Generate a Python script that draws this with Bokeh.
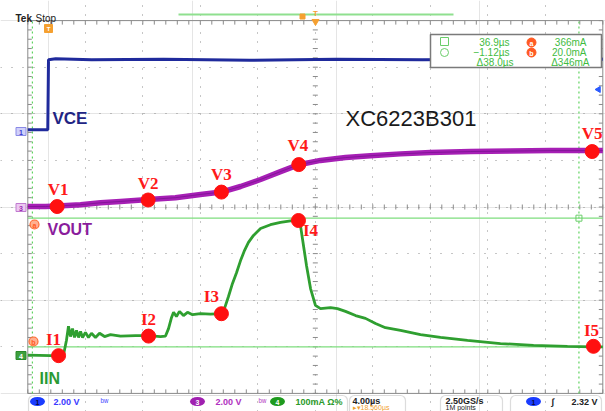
from bokeh.plotting import figure
from bokeh.models import Range1d, Grid, FixedTicker, BoxAnnotation, ColumnDataSource
from bokeh.core.properties import value
from bokeh.embed import file_html
from bokeh.resources import INLINE

# ---------------- data: time in µs, vertical position in graticule divisions ----------------
vce_t = [-1.44, -0.05, 0.0, 0.5, 3.0, 8.0, 14.0, 20.0, 26.0, 32.0, 38.56]
vce_y = [1.66, 1.66, 3.16, 3.18, 3.16, 3.17, 3.15, 3.17, 3.16, 3.17, 3.17]

vout_t = [-1.44, -0.21, 0.63, 2.23, 3.62, 5.01, 6.96, 8.83, 10.57, 12.03, 13.36, 14.75,
          16.14, 17.32, 18.92, 20.66, 22.40, 24.49, 26.57, 29.36, 32.14, 34.92, 37.84, 38.56]
vout_y = [0.01, 0.01, 0.02, 0.05, 0.09, 0.12, 0.16, 0.20, 0.27, 0.32, 0.44, 0.59,
          0.76, 0.90, 1.00, 1.06, 1.10, 1.14, 1.17, 1.19, 1.20, 1.21, 1.21, 1.21]

iin_t = [-1.44, 0.14, 1.04, 1.25, 1.39, 1.53, 1.67, 1.81, 1.95, 2.09, 2.23, 2.37, 2.57, 2.78,
         2.99, 3.27, 3.55, 3.90, 4.31, 5.01, 6.05, 6.96, 7.79, 8.14, 8.35, 8.56, 8.70, 8.90,
         9.11, 9.39, 9.67, 10.02, 10.57, 11.27, 11.97, 12.24, 12.52, 12.80, 13.08, 13.36, 13.64,
         13.91, 14.26, 14.75, 15.44, 16.14, 16.84, 17.39, 17.53, 17.74, 17.95, 18.23, 18.57,
         18.92, 19.62, 20.10, 20.66, 21.36, 22.05, 22.75, 23.44, 24.49, 25.88, 27.27, 29.15,
         31.44, 33.74, 36.10, 37.91, 38.56]
iin_y = [-3.18, -3.19, -3.18, -2.86, -2.56, -2.78, -2.61, -2.80, -2.65, -2.80, -2.67, -2.80,
         -2.69, -2.80, -2.71, -2.80, -2.71, -2.78, -2.74, -2.77, -2.76, -2.76, -2.78, -2.77,
         -2.61, -2.37, -2.26, -2.35, -2.24, -2.33, -2.26, -2.31, -2.29, -2.30, -2.29, -2.18,
         -1.92, -1.64, -1.41, -1.15, -0.93, -0.76, -0.61, -0.46, -0.38, -0.33, -0.30, -0.28,
         -0.40, -0.83, -1.26, -1.75, -2.11, -2.18, -2.16, -2.18, -2.24, -2.33, -2.39, -2.50,
         -2.59, -2.65, -2.74, -2.80, -2.86, -2.93, -2.97, -2.99, -3.00, -3.00]

v_names = ["V1", "V2", "V3", "V4", "V5"]
v_t = [0.60, 6.93, 12.03, 17.41, 37.82]
v_y = [0.01, 0.15, 0.32, 0.91, 1.19]

i_names = ["I1", "I2", "I3", "I4", "I5"]
i_t = [0.70, 6.96, 12.03, 17.39, 37.91]
i_y = [-3.19, -2.77, -2.29, -0.29, -2.99]

cursor_t = [-1.12, 36.9]          # vertical cursors (µs)
cursor_y = [-3.00, -0.24]         # horizontal cursors (div)

readout_time = ["36.9µs", "−1.12µs", "Δ38.0µs"]
readout_amp = ["366mA", "20.0mA", "Δ346mA"]

# ---------------- scope geometry ----------------
T_PER_DIV = 4.0
T_LEFT = -1.44
N_XDIV = 10
N_YDIV = 8
T_RIGHT = T_LEFT + N_XDIV * T_PER_DIV
T_CENTER = T_LEFT + N_XDIV * T_PER_DIV / 2


def X(px):
    return (px - 48.0) / 57.5 * T_PER_DIV


def Y(py):
    return (206.5 - py) / 46.6


W, H = 605, 411
p = figure(width=W, height=H, x_range=Range1d(X(0), X(605)), y_range=Range1d(Y(411), Y(0)),
           output_backend="svg", toolbar_location=None, x_axis_location=None,
           y_axis_location=None, min_border=0, title=None)
p.outline_line_color = None
p.background_fill_color = "white"
p.border_fill_color = "white"

GRID_C = "#8d8d8d"
gx = Grid(dimension=0, ticker=FixedTicker(ticks=[T_LEFT + T_PER_DIV * k for k in range(1, N_XDIV)]),
          bounds=(-4, 4), grid_line_color=GRID_C, grid_line_width=1, grid_line_dash="1 8")
gy = Grid(dimension=1, ticker=FixedTicker(ticks=[k for k in range(-3, 4)]),
          bounds=(T_LEFT, T_RIGHT), grid_line_color=GRID_C, grid_line_width=1,
          grid_line_dash="1 10")
p.add_layout(gx)
p.add_layout(gy)

# graticule border
p.quad(left=[T_LEFT], right=[T_RIGHT], bottom=[-4], top=[4], fill_color=None,
       line_color="#8a8a8a", line_width=1)

# minor ticks on centre lines and edges
ty = [-4 + 0.2 * k for k in range(41)]
tx = [T_LEFT + 0.8 * k for k in range(51)]
dx = 2.5 * T_PER_DIV / 57.5
dy = 2.5 / 46.6
TK = dict(line_color="#8a8a8a", line_width=1)
p.segment(x0=[T_CENTER - dx] * len(ty), y0=ty, x1=[T_CENTER + dx] * len(ty), y1=ty, **TK)
p.segment(x0=tx, y0=[-dy] * len(tx), x1=tx, y1=[dy] * len(tx), **TK)
p.segment(x0=[T_LEFT] * len(ty), y0=ty, x1=[T_LEFT + 1.6 * dx] * len(ty), y1=ty, **TK)
p.segment(x0=[T_RIGHT] * len(ty), y0=ty, x1=[T_RIGHT - 1.6 * dx] * len(ty), y1=ty, **TK)
p.segment(x0=tx, y0=[4] * len(tx), x1=tx, y1=[4 - 1.6 * dy] * len(tx), **TK)
p.segment(x0=tx, y0=[-4] * len(tx), x1=tx, y1=[-4 + 1.6 * dy] * len(tx), **TK)

# cursors
CUR = "#5fd35f"
p.segment(x0=cursor_t, y0=[-4, -4], x1=cursor_t, y1=[4, 4], line_color=CUR, line_width=1.2,
          line_dash="2 3")
p.segment(x0=[T_LEFT, T_LEFT], y0=cursor_y, x1=[T_RIGHT, T_RIGHT], y1=cursor_y,
          line_color="#7ede7e", line_width=1.3)
p.scatter(x=[cursor_t[1]], y=[cursor_y[1]], marker="square", size=6, fill_color=None,
          line_color="#6acd6a", line_width=1)

# traces
p.line(vce_t, vce_y, line_color="#1f2a9c", line_width=3)
p.line(vout_t, vout_y, line_color="#a61fb5", line_width=5.5)
p.line(vout_t, vout_y, line_color="#6d0f86", line_width=1, line_alpha=0.6)
p.line(iin_t, iin_y, line_color="#2f9f30", line_width=2.8)


def txt(px, py, s, color, size, font="Liberation Sans", style="normal", align="left",
        baseline="middle"):
    p.text(x=[X(px)], y=[Y(py)], text=[s], text_color=color, text_font=value(font),
           text_font_size="%spx" % size, text_font_style=style, text_align=align,
           text_baseline=baseline)


# readout box (covers trace)
p.quad(left=[X(430)], right=[X(601)], top=[Y(34)], bottom=[Y(67)], fill_color="white",
       line_color="#7a7a7a", line_width=1.5)
RC = "#3fbb3f"
rows_py = [42, 52, 62]
for k in range(3):
    txt(509 if k < 2 else 513, rows_py[k], readout_time[k], RC, 10, align="right")
    txt(586 if k < 2 else 589, rows_py[k], readout_amp[k], RC, 10, align="right")
p.scatter(x=[X(444)], y=[Y(41)], marker="square", size=8, fill_color=None, line_color="#6acd6a")
p.scatter(x=[X(444)], y=[Y(52)], marker="circle", size=8, fill_color=None, line_color="#6acd6a")
p.scatter(x=[X(531), X(531)], y=[Y(42), Y(52)], marker="circle", size=9,
          fill_color="#ff5a22", line_color="#ff5a22")
txt(531, 42.5, "a", "white", 7, style="bold", align="center")
txt(531, 52.5, "b", "white", 7, style="bold", align="center")

# red markers + labels
p.scatter(v_t, v_y, marker="circle", size=14, fill_color="#ff1010", line_color="#ff1010")
p.scatter(i_t, i_y, marker="circle", size=14, fill_color="#ff1010", line_color="#ff1010")
lab = ColumnDataSource(dict(
    x=v_t + i_t, y=v_y + i_y, t=v_names + i_names,
    dx=[1, 0, 0, -1, 0, -5, 0, -10, 12, -2],
    dy=[-17, -17, -18, -19, -18, -16, -17, -17, 10, -16]))
p.text(x="x", y="y", text="t", x_offset="dx", y_offset="dy", source=lab,
       text_color="#ff1a1a", text_font=value("Liberation Serif"), text_font_size="17px",
       text_font_style="bold", text_align="center", text_baseline="middle")

# channel labels
txt(52, 118, "VCE", "#1f2584", 17, style="bold", baseline="alphabetic")
txt(345, 118, "XC6223B301", "#1a1a1a", 22, baseline="alphabetic")
txt(47, 229, "VOUT", "#8a1c9c", 16, style="bold", baseline="alphabetic")
txt(39, 378, "IIN", "#2a9a34", 16, style="bold", baseline="alphabetic")

# orange a/b reference markers
p.scatter(x=[X(34), X(33)], y=[Y(224), Y(341)], marker="circle", size=9,
          fill_color="#ffb090", line_color="#ff6a30", line_width=1.2)
txt(34, 224.5, "a", "#ff5a22", 7, style="bold", align="center")
txt(33, 341.5, "b", "#ff5a22", 7, style="bold", align="center")

# channel ground markers
p.rect(x=[X(20.5), X(20.5), X(20.5)], y=[Y(131), Y(207), Y(355)], width=10, height=8,
       width_units="screen", height_units="screen",
       fill_color=["#d0d0fa", "#ecc8f0", "#3ea03e"], line_color=["#8a8ae6", "#c07ad0", "#2a8a2a"])
txt(20.5, 131.5, "1", "#3a3ad0", 7, style="bold", align="center")
txt(20.5, 207.5, "3", "#9a2ab0", 7, style="bold", align="center")
txt(20.5, 355.5, "4", "white", 7, style="bold", align="center")

# top status
txt(15, 18, "Tek", "#222222", 10, style="bold", baseline="alphabetic")
txt(35, 18, "Stop", "#222222", 10, baseline="alphabetic")
p.segment(x0=[X(178)], y0=[Y(14)], x1=[X(453)], y1=[Y(14)], line_color="#8fe08f", line_width=2)
p.scatter(x=[X(302)], y=[Y(16)], marker="square", size=5, fill_color="#f5a030", line_color="#f5a030")
txt(315, 12.5, "T", "#f5a030", 8, style="bold", align="center")
p.scatter(x=[X(315)], y=[Y(21)], marker="inverted_triangle", size=7, fill_color="#f5a030",
          line_color="#f5a030")
p.scatter(x=[X(48)], y=[Y(28)], marker="square", size=8, fill_color="#f5a030", line_color="#f5a030")
txt(48, 28.5, "T", "white", 6, style="bold", align="center")
p.scatter(x=[X(598)], y=[Y(89)], marker="triangle", angle=1.5708, size=6,
          fill_color="#2a5aff", line_color="#2a5aff")

# bottom bar
for l, r in [(28, 347), (349, 405), (440, 502), (510, 601)]:
    p.add_layout(BoxAnnotation(left=X(l), right=X(r), top=Y(395), bottom=Y(420),
                               fill_alpha=0, line_color="#8a8a8a", line_width=1.2,
                               border_radius=5))
p.ellipse(x=[X(37), X(197), X(277), X(533)], y=[Y(401)] * 4, width=15, height=9,
          width_units="screen", height_units="screen",
          fill_color=["#1a3cff", "#a020b0", "#1e9a1e", "#1a3cff"], line_color=None)
for px_, s in [(37, "1"), (197, "3"), (277, "4"), (533, "1")]:
    txt(px_, 401.5, s, "white" if s != "1" else "#0a0a40", 7, style="bold", align="center")
BB = 9
txt(53, 401, "2.00 V", "#3a3aff", BB, style="bold")
txt(100, 401, "ᵇʷ", "#3a3aff", BB)
txt(215, 401, "2.00 V", "#b030c0", BB, style="bold")
txt(258, 401, "ᵇʷ", "#b030c0", BB)
txt(295, 401, "100mA Ω%", "#2a9a2a", BB, style="bold")
txt(352, 400, "4.00µs", "#222222", BB, style="bold")
txt(352, 407, "▸▾18.560µs", "#f0a030", 7)
txt(445, 400, "2.50GS/s", "#222222", BB, style="bold")
txt(445, 407, "1M points", "#222222", 7)
txt(551, 401, "∫", "#222222", BB, style="bold")
txt(597, 401, "2.32 V", "#222222", BB, style="bold", align="right")

open("out.html", "w").write(file_html(p, INLINE))
